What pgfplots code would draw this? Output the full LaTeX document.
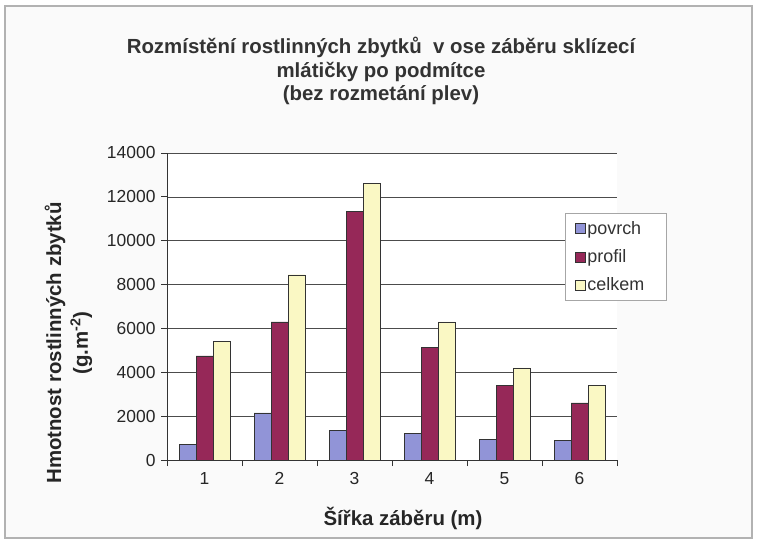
\documentclass[border=0pt]{standalone}
\usepackage{fontspec}
\setmainfont{Liberation Sans}
\usepackage{pgfplots}
\pgfplotsset{compat=1.18}
\definecolor{cpovrch}{RGB}{145,148,215}
\definecolor{cprofil}{RGB}{150,40,88}
\definecolor{ccelkem}{RGB}{250,248,196}
\begin{document}
\begin{tikzpicture}
\useasboundingbox (0bp,0bp) rectangle (762bp,543bp);
\fill[white] (0bp,0bp) rectangle (762bp,543bp);
\draw[gray!60, line width=1.5bp, fill=gray!4] (5bp,5bp) rectangle (752bp,537bp);
\node[font=\bfseries\fontsize{20.5}{24}\selectfont, align=center, text=black!80] at (381bp,472bp)
  {Rozmístění rostlinných zbytků\ \ v ose záběru sklízecí\\mlátičky po podmítce\\(bez rozmetání plev)};
\begin{axis}[
  at={(167bp,83bp)}, anchor=south west,
  width=450bp, height=307bp, scale only axis,
  xmin=0.5, xmax=6.5, ymin=0, ymax=14000,
  ytick={0,2000,...,14000},
  scaled y ticks=false,
  xtick={1,...,6},
  minor xtick={0.5,1.5,...,6.5},
  major x tick style={draw=none},
  axis x line*=bottom, axis y line*=left,
  axis line style={black!80, line width=0.8bp},
  ymajorgrids, grid style={black!70, line width=0.7bp},
  tick align=outside, major tick length=6bp, minor tick length=6bp,
  tick style={black!80, line width=0.8bp},
  axis background/.style={fill=white},
  ybar=0pt, bar width=17bp,
  /pgf/number format/assume math mode=true,
  /pgf/number format/set thousands separator={},
  ticklabel style={font=\fontsize{17.5}{20}\selectfont, text=black!85},
  yticklabel style={xshift=-2bp},
  xticklabel style={yshift=-3bp},
  legend style={at={(0.884,0.805)}, anchor=north west, draw=gray!70, fill=white,
    font=\fontsize{18}{21}\selectfont, row sep=10bp, inner xsep=10bp, inner ysep=6bp,
    text=black!80},
  legend cell align=left,
  legend image code/.code={\draw[#1, draw=black!80] (0bp,-5bp) rectangle (10bp,5bp);},
]
\addplot[fill=cpovrch, draw=black!80] coordinates {(1,700) (2,2150) (3,1350) (4,1200) (5,950) (6,900)};
\addplot[fill=cprofil, draw=black!80] coordinates {(1,4750) (2,6300) (3,11350) (4,5150) (5,3400) (6,2600)};
\addplot[fill=ccelkem, draw=black!80] coordinates {(1,5400) (2,8450) (3,12600) (4,6300) (5,4200) (6,3400)};
\legend{povrch,profil,celkem\hspace*{10bp}}
\end{axis}
\node[font=\bfseries\fontsize{20.5}{27}\selectfont, align=center, rotate=90, text=black!85] at (68.5bp,200bp)
  {Hmotnost rostlinných zbytků\\(g.m\textsuperscript{-2})};
\node[font=\bfseries\fontsize{20.5}{24}\selectfont, text=black!85] at (403bp,25bp) {Šířka záběru (m)};
\end{tikzpicture}
\end{document}
